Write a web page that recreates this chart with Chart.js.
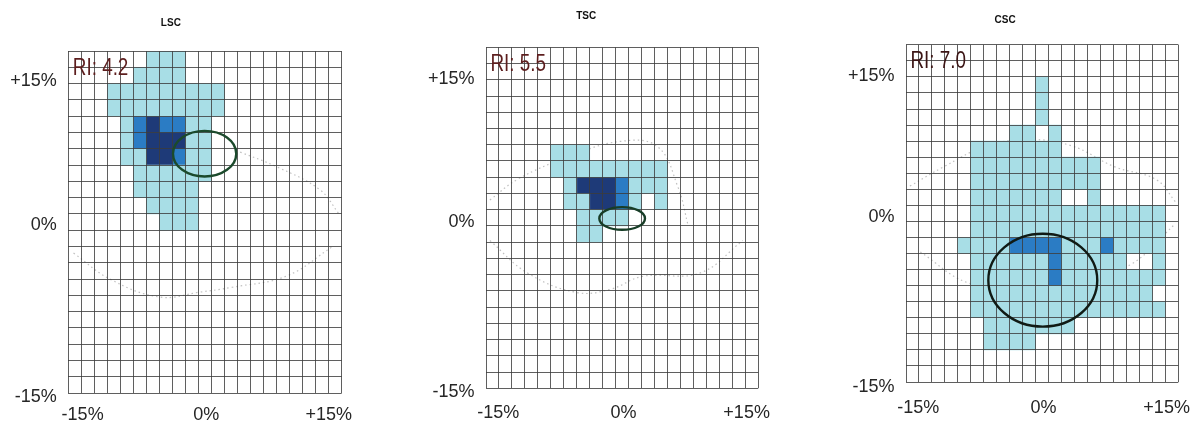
<!DOCTYPE html>
<html>
<head>
<meta charset="utf-8">
<script src="https://cdn.jsdelivr.net/npm/chart.js@4.4.1/dist/chart.umd.min.js"></script>
<style>
  html, body { margin: 0; padding: 0; background: #fff; }
  body { width: 1192px; height: 428px; position: relative; overflow: hidden; }
  .panel { position: absolute; top: 0; height: 428px; }
</style>
</head>
<body>
<div class="panel" style="left:0;width:414px"><canvas id="chart-lsc"></canvas></div>
<div class="panel" style="left:414px;width:406px"><canvas id="chart-tsc"></canvas></div>
<div class="panel" style="left:832px;width:360px"><canvas id="chart-csc"></canvas></div>
<script>
// ---- dados ----
const titles = ['LSC', 'TSC', 'CSC'];
const riLabels = ['RI: 4.2', 'RI: 5.5', 'RI: 7.0'];
const xTickLabels = ['-15%', '0%', '+15%'];
const yTickLabels = ['-15%', '0%', '+15%'];

// 21 x 21 cells, top row first: l = light, m = medium, d = dark
const lscCells = [
  '......lll............',
  '.....llll............',
  '...lllllllll.........',
  '...lllllllll.........',
  '....lmdmmll..........',
  '....lmdddll..........',
  '....llddmll..........',
  '.....llllll..........',
  '.....lllll...........',
  '......llll...........',
  '.......lll...........',
  '.....................',
  '.....................',
  '.....................',
  '.....................',
  '.....................',
  '.....................',
  '.....................',
  '.....................',
  '.....................',
  '.....................'
];
const tscCells = [
  '.....................',
  '.....................',
  '.....................',
  '.....................',
  '.....................',
  '.....................',
  '.....lll.............',
  '.....lllllllll.......',
  '......ldddmlll.......',
  '......llddml.l.......',
  '.......llll..........',
  '.......ll............',
  '.....................',
  '.....................',
  '.....................',
  '.....................',
  '.....................',
  '.....................',
  '.....................',
  '.....................',
  '.....................'
];
const cscCells = [
  '.....................',
  '.....................',
  '..........l..........',
  '..........l..........',
  '..........l..........',
  '........ll.l.........',
  '.....lllllll.........',
  '.....llllllllll......',
  '.....llllllllll......',
  '.....lllllll..l......',
  '.....lllllllllllllll.',
  '.....lllllllllllllll.',
  '....llllmmmmlllmllll.',
  '.....llllllmlllll..l.',
  '.....llllllmllllllll.',
  '.....llllllllllllll..',
  '.....lllllllllllllll.',
  '......lllllll........',
  '......llll...........',
  '.....................',
  '.....................'
];

// tick label positions, in grid units (0..21)
const lscXTickPos = [1.1, 10.6, 20.0];
const tscXTickPos = [0.95, 10.6, 20.1];
const cscXTickPos = [0.95, 10.6, 20.1];
const lscYTickPos = [-0.27, 10.3, 19.16];
const tscYTickPos = [-0.21, 10.27, 19.04];
const cscYTickPos = [-0.29, 10.28, 19.08];

// ellipses: centre x, centre y, radius x, radius y (grid units)
const lscEllipse = [10.47, 14.7, 2.43, 1.4];
const tscEllipse = [10.5, 10.46, 1.76, 0.7];
const cscEllipse = [10.55, 6.34, 4.2, 2.89];

// dotted contour lines
const lscArcLow = [[0.4, 8.6], [3.2, 7.0], [7.0, 5.9], [10.1, 6.2], [12.6, 6.5], [16.8, 7.2], [20.3, 9.0]];
const lscArcHigh = [[13.2, 14.8], [16.0, 13.9], [19.3, 12.5], [20.8, 11.0]];
const tscArcLow = [[0.3, 9.1], [3.2, 7.1], [7.0, 5.9], [9.6, 6.1], [12.1, 6.9], [16.5, 7.1], [19.8, 9.1]];
const tscArcHigh = [[0.3, 11.6], [2.5, 12.9], [6.5, 14.3], [10.3, 15.2], [13.2, 14.9], [14.8, 12.4], [15.6, 10.0]];
const cscArcLow = [[1.1, 8.1], [4.7, 6.2], [8.0, 6.0], [11.5, 6.2], [14.9, 6.8], [17.5, 7.4], [20.7, 9.8]];
const cscArcHigh = [[0.3, 12.2], [2.9, 13.4], [6.2, 14.7], [9.5, 15.1], [12.8, 14.7], [16.1, 13.4], [19.3, 12.6], [20.8, 11.2]];

const nGrid = 21;
const cellColors = { l: '#a8dee6', m: '#2b7cc4', d: '#1e3a78' };

const panels = [
  { id: 'chart-lsc', title: titles[0], ri: riLabels[0], cells: lscCells, xt: lscXTickPos, yt: lscYTickPos,
    ellipse: lscEllipse, arcs: [lscArcLow, lscArcHigh], riColor: '#5c1d1d', ellColor: '#1b4a2c',
    yW: 68.3, rightPad: 72.3, xH: 34.9, xPad: 11, titleTop: 17.4, titleBottom: 21.7 },
  { id: 'chart-tsc', title: titles[1], ri: riLabels[1], cells: tscCells, xt: tscXTickPos, yt: tscYTickPos,
    ellipse: tscEllipse, arcs: [tscArcLow, tscArcHigh], riColor: '#5c1d1d', ellColor: '#173d27',
    yW: 72, rightPad: 61.7, xH: 39.7, xPad: 14, titleTop: 10.4, titleBottom: 24.9 },
  { id: 'chart-csc', title: titles[2], ri: riLabels[2], cells: cscCells, xt: cscXTickPos, yt: cscYTickPos,
    ellipse: cscEllipse, arcs: [cscArcLow, cscArcHigh], riColor: '#3b1414', ellColor: '#101a14',
    yW: 74, rightPad: 13.7, xH: 46, xPad: 15, titleTop: 14.4, titleBottom: 18.4 }
];

// desenha elipse e texto RI por cima de tudo
const extrasPlugin = {
  id: 'panelExtras',
  afterDraw(chart, args, opts) {
    const { ctx, chartArea } = chart;
    const xs = chart.scales.x, ys = chart.scales.y;
    const [cx, cy, rx, ry] = opts.ellipse;
    const px = xs.getPixelForValue(cx), py = ys.getPixelForValue(cy);
    const rpx = Math.abs(xs.getPixelForValue(cx + rx) - px);
    const rpy = Math.abs(ys.getPixelForValue(cy + ry) - py);
    ctx.save();
    ctx.beginPath();
    ctx.ellipse(px, py, rpx, rpy, 0, 0, Math.PI * 2);
    ctx.lineWidth = 2.4;
    ctx.strokeStyle = opts.ellColor;
    ctx.stroke();
    // texto RI, um pouco condensado como no original
    ctx.translate(chartArea.left + 4.5, chartArea.top + 23.5);
    ctx.scale(0.82, 1);
    ctx.font = "23px 'Liberation Sans', Arial, sans-serif";
    ctx.fillStyle = opts.riColor;
    ctx.textBaseline = 'alphabetic';
    ctx.fillText(opts.ri, 0, 0);
    ctx.restore();
  }
};

function criarGrafico(p) {
  const datasets = [];
  for (const key of ['l', 'm', 'd']) {
    const data = [];
    p.cells.forEach((row, r) => {
      [...row].forEach((ch, c) => {
        if (ch === key) data.push({ x: c + 0.5, y: [nGrid - r - 1, nGrid - r] });
      });
    });
    datasets.push({
      type: 'bar', data, backgroundColor: cellColors[key], borderWidth: 0,
      barPercentage: 1, categoryPercentage: 1, grouped: false, xAxisID: 'x', yAxisID: 'y'
    });
  }
  p.arcs.forEach(arc => {
    datasets.push({
      type: 'line', data: arc.map(([x, y]) => ({ x, y })), borderColor: 'rgba(115,115,115,0.45)',
      borderWidth: 1.2, borderDash: [1.5, 3], pointRadius: 0, tension: 0.4, fill: false,
      xAxisID: 'x', yAxisID: 'y'
    });
  });

  const tickFont = { family: "'Liberation Sans', Arial, sans-serif", size: 18 };
  const gridLines = n => Array.from({ length: n + 1 }, (_, i) => ({ value: i }));

  return new Chart(document.getElementById(p.id), {
    type: 'bar',
    data: { datasets },
    options: {
      responsive: true,
      maintainAspectRatio: false,
      animation: false,
      layout: { padding: { left: 0, top: 0, bottom: 0, right: p.rightPad } },
      plugins: {
        legend: { display: false },
        tooltip: { enabled: false },
        title: {
          display: true, text: p.title, color: '#111',
          font: { family: "'Liberation Sans', Arial, sans-serif", size: 10, weight: 'bold' },
          padding: { top: p.titleTop, bottom: p.titleBottom }
        },
        panelExtras: { ellipse: p.ellipse, ellColor: p.ellColor, ri: p.ri, riColor: p.riColor }
      },
      scales: {
        x: {
          type: 'linear', position: 'bottom', min: 0, max: nGrid, offset: false,
          afterBuildTicks: s => { s.ticks = gridLines(nGrid); },
          afterFit: s => { s.height = 0; s.paddingLeft = 0; s.paddingRight = 0; },
          ticks: { display: false },
          grid: { offset: false, drawTicks: false, color: 'rgba(60,60,60,0.82)', lineWidth: 1, z: 1 },
          border: { display: false }
        },
        xl: {
          type: 'linear', position: 'bottom', min: 0, max: nGrid, offset: false,
          afterBuildTicks: s => { s.ticks = p.xt.map(v => ({ value: v })); },
          afterFit: s => { s.height = p.xH; s.paddingLeft = 0; s.paddingRight = 0; },
          ticks: { autoSkip: false, maxRotation: 0, padding: p.xPad, color: '#262626', font: tickFont,
                   callback: (v, i) => xTickLabels[i] },
          grid: { display: false, drawTicks: false, offset: false },
          border: { display: false }
        },
        y: {
          type: 'linear', position: 'left', min: 0, max: nGrid,
          afterBuildTicks: s => { s.ticks = gridLines(nGrid); },
          afterFit: s => { s.width = 0; s.paddingTop = 0; s.paddingBottom = 0; },
          ticks: { display: false },
          grid: { drawTicks: false, color: 'rgba(60,60,60,0.82)', lineWidth: 1, z: 1 },
          border: { display: false }
        },
        yl: {
          type: 'linear', position: 'left', min: 0, max: nGrid,
          afterBuildTicks: s => { s.ticks = p.yt.map(v => ({ value: v })); },
          afterFit: s => { s.width = p.yW; s.paddingTop = 0; s.paddingBottom = 0; },
          ticks: { autoSkip: false, padding: 11.5, color: '#262626', font: tickFont,
                   callback: (v, i) => yTickLabels[i] },
          grid: { display: false, drawTicks: false },
          border: { display: false }
        }
      }
    },
    plugins: [extrasPlugin]
  });
}

panels.forEach(criarGrafico);
</script>
</body>
</html>
